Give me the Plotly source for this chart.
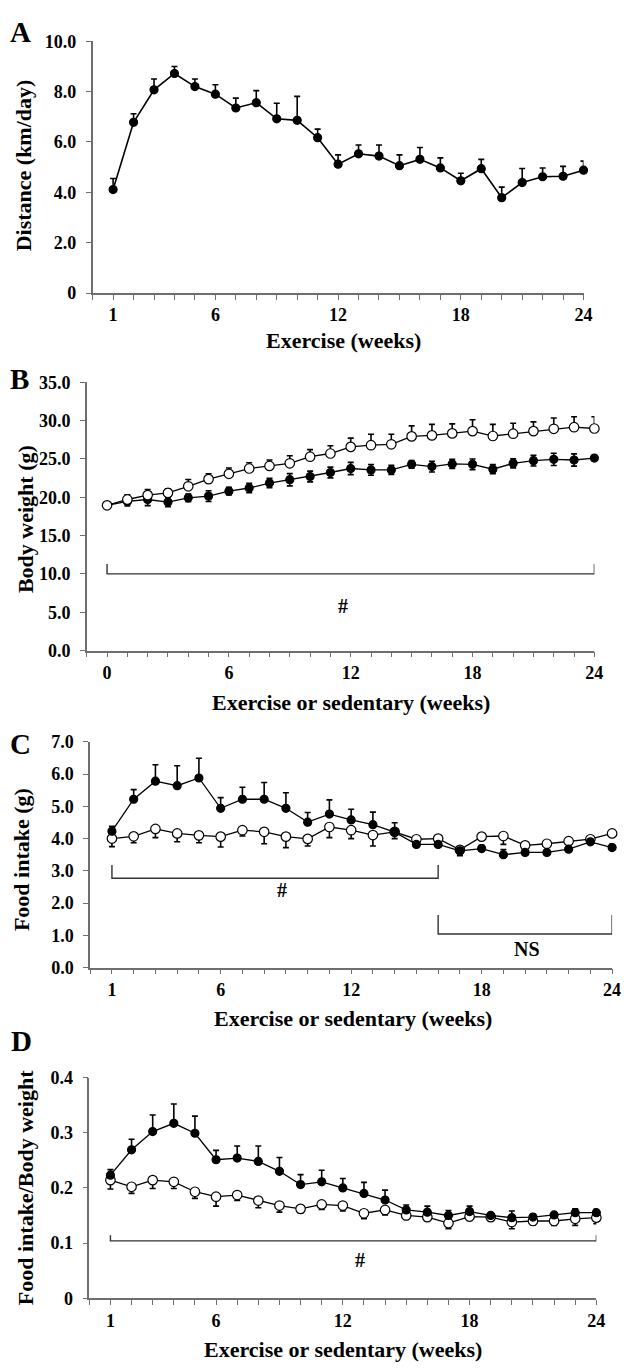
import plotly.graph_objects as go

W, H = 629, 1372

# ---------------- data ----------------
weeks_A = list(range(1, 25))
dist_A = [4.11, 6.78, 8.07, 8.72, 8.20, 7.90, 7.35, 7.56, 6.92, 6.86, 6.17, 5.12,
          5.53, 5.44, 5.06, 5.31, 4.97, 4.46, 4.94, 3.79, 4.39, 4.62, 4.64, 4.88]
dist_A_err = [0.44, 0.34, 0.43, 0.28, 0.30, 0.37, 0.39, 0.48, 0.62, 0.95, 0.34, 0.37,
              0.35, 0.44, 0.43, 0.47, 0.40, 0.30, 0.37, 0.42, 0.56, 0.35, 0.39, 0.36]

weeks_B = list(range(0, 25))
sed_B = [18.94, 19.70, 20.27, 20.56, 21.42, 22.36, 23.05, 23.74, 24.08, 24.42, 25.28, 25.70,
         26.56, 26.78, 26.90, 27.93, 28.06, 28.32, 28.62, 27.98, 28.28, 28.62, 28.92, 29.13, 28.96]
sed_B_err = [0.20, 0.60, 0.73, 0.54, 0.88, 0.69, 0.75, 0.76, 0.77, 0.98, 0.92, 1.00,
             1.14, 1.42, 1.30, 1.37, 1.44, 1.24, 1.48, 1.52, 1.37, 1.20, 1.41, 1.37, 1.54]
ex_B = [18.94, 19.45, 19.70, 19.37, 19.92, 20.14, 20.78, 21.20, 21.85, 22.28, 22.70, 23.22,
        23.74, 23.56, 23.56, 24.29, 23.99, 24.34, 24.29, 23.65, 24.42, 24.76, 24.94, 24.85, 25.10]
ex_B_err = [0.20, 0.60, 0.80, 0.60, 0.50, 0.70, 0.50, 0.60, 0.60, 0.80, 0.70, 0.70,
            0.80, 0.70, 0.60, 0.50, 0.70, 0.60, 0.70, 0.60, 0.60, 0.70, 0.80, 0.80, 0.30]

weeks_C = list(range(1, 25))
ex_C = [4.23, 5.22, 5.78, 5.64, 5.88, 4.94, 5.22, 5.22, 4.94, 4.51, 4.76, 4.58,
        4.43, 4.20, 3.82, 3.82, 3.62, 3.69, 3.50, 3.57, 3.57, 3.67, 3.90, 3.72]
ex_C_err = [0.15, 0.30, 0.51, 0.62, 0.61, 0.33, 0.37, 0.52, 0.48, 0.30, 0.44, 0.33,
            0.39, 0.29, 0.05, 0.05, 0.10, 0.10, 0.16, 0.05, 0.05, 0.05, 0.08, 0.10]
sed_C = [4.00, 4.07, 4.30, 4.16, 4.10, 4.06, 4.26, 4.21, 4.06, 3.99, 4.36, 4.26,
         4.11, 4.21, 3.98, 4.00, 3.65, 4.06, 4.08, 3.79, 3.84, 3.92, 3.98, 4.16]
sed_C_err = [0.25, 0.20, 0.27, 0.26, 0.23, 0.32, 0.18, 0.37, 0.34, 0.22, 0.33, 0.26,
             0.34, 0.21, 0.05, 0.05, 0.18, 0.05, 0.26, 0.05, 0.05, 0.05, 0.05, 0.05]

weeks_D = list(range(1, 25))
ex_D = [0.223, 0.269, 0.302, 0.317, 0.299, 0.251, 0.254, 0.248, 0.230, 0.206, 0.211, 0.200,
        0.190, 0.178, 0.160, 0.156, 0.150, 0.157, 0.150, 0.146, 0.147, 0.151, 0.155, 0.155]
ex_D_err = [0.010, 0.019, 0.030, 0.035, 0.031, 0.017, 0.022, 0.028, 0.025, 0.018, 0.021, 0.017,
            0.020, 0.018, 0.009, 0.011, 0.009, 0.010, 0.003, 0.012, 0.005, 0.003, 0.007, 0.006]
sed_D = [0.214, 0.202, 0.214, 0.211, 0.193, 0.184, 0.187, 0.177, 0.168, 0.162, 0.170, 0.168,
         0.154, 0.160, 0.150, 0.147, 0.136, 0.148, 0.147, 0.138, 0.140, 0.140, 0.144, 0.146]
sed_D_err = [0.016, 0.012, 0.015, 0.012, 0.012, 0.017, 0.010, 0.013, 0.012, 0.007, 0.009, 0.010,
             0.010, 0.009, 0.007, 0.006, 0.010, 0.007, 0.006, 0.012, 0.007, 0.008, 0.012, 0.011]

# tick labels
ytick_A = [0, 2, 4, 6, 8, 10]
ytext_A = ["0", "2.0", "4.0", "6.0", "8.0", "10.0"]
ytick_B = [0, 5, 10, 15, 20, 25, 30, 35]
ytext_B = ["0.0", "5.0", "10.0", "15.0", "20.0", "25.0", "30.0", "35.0"]
ytick_C = [0, 1, 2, 3, 4, 5, 6, 7]
ytext_C = ["0.0", "1.0", "2.0", "3.0", "4.0", "5.0", "6.0", "7.0"]
ytick_D = [0, 0.1, 0.2, 0.3, 0.4]
ytext_D = ["0", "0.1", "0.2", "0.3", "0.4"]
xlabels_1 = [1, 6, 12, 18, 24]
xlabels_0 = [0, 6, 12, 18, 24]

# significance brackets: (x0, x1, level, tick top, label, label x, label y)
brackets = {
    "B": [(0, 24, 10.0, 11.3, "#", 11.6, 5.8)],
    "C": [(1, 16, 2.77, 3.18, "#", 8.8, 2.4), (16, 24, 1.04, 1.63, "NS", 20.1, 0.56)],
    "D": [(1, 24, 0.104, 0.114, "#", 12.8, 0.07)],
}

# ---------------- layout geometry (pixels) ----------------
FONT = "Liberation Serif"
AX = "#6e6e6e"
panels = {
    "A": dict(x=(94, 592), y=(31.7, 287.3), xr=[0, 24], yr=[0, 10]),
    "B": dict(x=(88, 603), y=(377.7, 650), xr=[-1, 24], yr=[0, 35]),
    "C": dict(x=(91.5, 621), y=(742.7, 971.7), xr=[0, 24], yr=[0, 7]),
    "D": dict(x=(90.6, 605), y=(1083.3, 1307.3), xr=[0, 24], yr=[0, 0.4]),
}
ids = {"A": "", "B": "2", "C": "3", "D": "4"}

fig = go.Figure()

def line_trace(x, y, err, minus, axid, filled, lw=1.3):
    return go.Scatter(
        x=x, y=y, mode="lines+markers", xaxis="x" + axid, yaxis="y" + axid,
        line=dict(color="black", width=lw),
        marker=dict(symbol="circle", size=8 if filled else 9.5,
                    color="black" if filled else "white",
                    line=dict(color="black", width=1.2)),
        error_y=dict(type="data", symmetric=False,
                     array=[0] * len(err) if minus == "down" else err,
                     arrayminus=err if minus in ("down", "both") else [0] * len(err),
                     color="black", thickness=1.6, width=3),
        showlegend=False, cliponaxis=False,
    )

fig.add_trace(line_trace(weeks_A, dist_A, dist_A_err, "up", "", True, 1.6))
fig.add_trace(line_trace(weeks_B, ex_B, ex_B_err, "both", "2", True))
fig.add_trace(line_trace(weeks_B, sed_B, sed_B_err, "up", "2", False))
fig.add_trace(line_trace(weeks_C, sed_C, sed_C_err, "down", "3", False))
fig.add_trace(line_trace(weeks_C, ex_C, ex_C_err, "up", "3", True))
fig.add_trace(line_trace(weeks_D, sed_D, sed_D_err, "down", "4", False))
fig.add_trace(line_trace(weeks_D, ex_D, ex_D_err, "up", "4", True))

layout = dict(width=W, height=H, margin=dict(l=0, r=0, t=0, b=0),
              plot_bgcolor="white", paper_bgcolor="white",
              font=dict(family=FONT, color="black"))

ytv = {"A": (ytick_A, ytext_A), "B": (ytick_B, ytext_B), "C": (ytick_C, ytext_C), "D": (ytick_D, ytext_D)}
for k, p in panels.items():
    i = ids[k]
    x0, x1 = p["x"]
    y0, y1 = p["y"]
    lo = int(p["xr"][0])
    labels = xlabels_0 if k == "B" else xlabels_1
    tv = list(range(lo, 25))
    tt = [str(v) if v in labels else "" for v in tv]
    layout["xaxis" + i] = dict(
        domain=[x0 / W, x1 / W], range=p["xr"], anchor="y" + i,
        showgrid=False, zeroline=False, showline=True, linecolor=AX, linewidth=1.5,
        ticks="outside", ticklen=5, tickwidth=1.2, tickcolor=AX,
        tickvals=tv, ticktext=tt, ticklabelstandoff=0,
        tickfont=dict(family=FONT, size=18, color="black", weight="bold"),
    )
    layout["yaxis" + i] = dict(
        domain=[1 - y1 / H, 1 - y0 / H], range=p["yr"], anchor="x" + i,
        showgrid=False, zeroline=False, showline=True, linecolor=AX, linewidth=1.5,
        ticks="outside", ticklen=5, tickwidth=1.2, tickcolor=AX,
        tickvals=ytv[k][0], ticktext=ytv[k][1], ticklabelstandoff=6,
        tickfont=dict(family=FONT, size=18, color="black", weight="bold"),
    )
fig.update_layout(**layout)

ann = []
def txt(text, x, y, size, angle=0, xref="paper", yref="paper"):
    if xref == "paper":
        x = x / W
    if yref == "paper":
        y = 1 - y / H
    ann.append(dict(text=text, x=x, y=y, xref=xref, yref=yref, showarrow=False,
                    textangle=angle, xanchor="center", yanchor="middle",
                    font=dict(family=FONT, size=size, color="black", weight="bold")))

# panel letters
for k, (lx, ly) in {"A": (21, 22), "B": (20, 374), "C": (21, 745), "D": (22, 1046)}.items():
    txt(k, lx, ly, 29)

# axis titles
txt("Distance (km/day)", 24, 158, 22, -90)
txt("Exercise (weeks)", 348, 335, 22)
txt("Body weight (g)", 26, 517, 22, -90)
txt("Exercise or sedentary (weeks)", 356, 703, 22)
txt("Food intake (g)", 22, 862, 22, -90)
txt("Exercise or sedentary (weeks)", 358, 1023, 22)
txt("Food intake/Body weight", 26, 1195, 22, -90)
txt("Exercise or sedentary (weeks)", 348, 1359, 22)

shapes = []
for k, lst in brackets.items():
    i = ids[k]
    for (bx0, bx1, lev, top, lab, lx, ly) in lst:
        shapes.append(dict(type="path", xref="x" + i, yref="y" + i,
                           path=f"M {bx0},{top} L {bx0},{lev} L {bx1},{lev} L {bx1},{top}",
                           line=dict(color="#333333", width=1.4)))
        txt(lab, lx, ly, 20, 0, "x" + i, "y" + i)

fig.update_layout(annotations=ann, shapes=shapes)

fig.write_html("out.html", config={"displayModeBar": False},
               post_script="document.body.style.margin='0px';")
